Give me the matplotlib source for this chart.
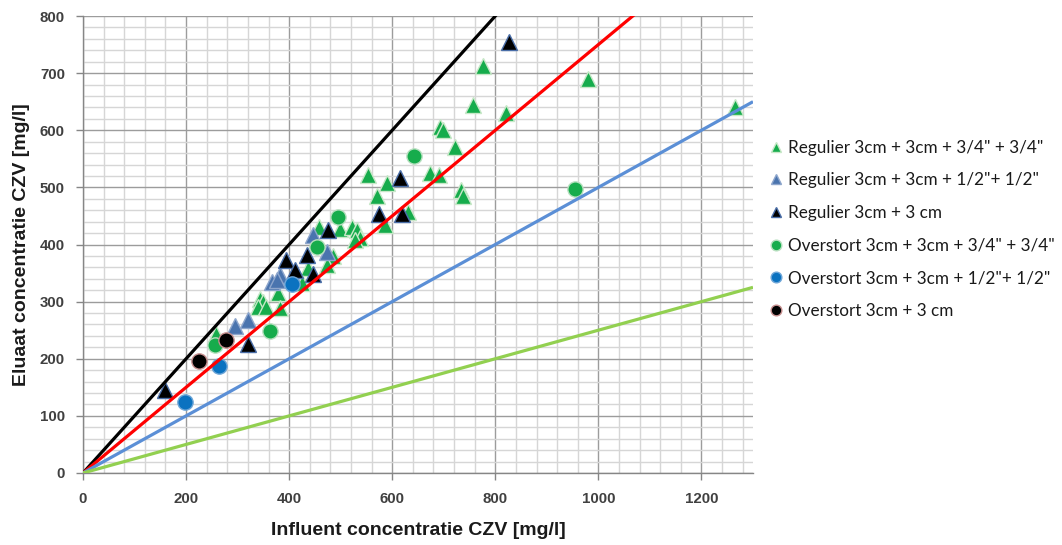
import matplotlib
matplotlib.use("Agg")
import matplotlib.pyplot as plt
from matplotlib.ticker import MultipleLocator

# --- measurements: influent vs eluate COD (CZV) in mg/l ---
reg_34_x = [1265, 980, 821, 777, 756, 693, 699, 722, 673, 690, 733, 738, 553, 590, 570,
            631, 586, 457, 499, 521, 531, 538, 528, 486, 473, 437, 424, 343, 350, 340,
            355, 379, 382, 259]
reg_34_y = [640, 690, 630, 712, 644, 606, 600, 570, 525, 522, 495, 485, 522, 508, 485,
            457, 434, 431, 428, 431, 425, 411, 408, 379, 364, 358, 333, 305, 300, 290,
            291, 315, 288, 243]

reg_12_x = [447, 473, 382, 366, 376, 321, 295]
reg_12_y = [416, 387, 347, 335, 338, 268, 258]

reg_3_x = [827, 615, 575, 618, 476, 434, 394, 411, 446, 321, 159]
reg_3_y = [755, 517, 454, 454, 425, 382, 373, 355, 349, 225, 145]

ov_34_x = [955, 643, 494, 454, 362, 256]
ov_34_y = [498, 555, 448, 396, 249, 224]

ov_12_x = [406, 263, 197]
ov_12_y = [331, 188, 125]

ov_3_x = [226, 278]
ov_3_y = [196, 233]

# reference lines eluate = ratio * influent
ref_x = [0, 1300]
ref_ratios = [1.0, 0.75, 0.5, 0.25]
ref_colors = ["#000000", "#FF0000", "#5B8FD6", "#92D050"]

labels = [
    'Regulier 3cm + 3cm + 3/4" + 3/4"',
    'Regulier 3cm + 3cm + 1/2"+ 1/2"',
    'Regulier 3cm + 3 cm',
    'Overstort 3cm + 3cm + 3/4" + 3/4"',
    'Overstort 3cm + 3cm + 1/2"+ 1/2"',
    'Overstort 3cm + 3 cm',
]

fig = plt.figure(figsize=(10.62, 5.45), dpi=100)
ax = fig.add_axes([83 / 1062, 1 - 473 / 545, 670 / 1062, 457 / 545])

ax.set_xlim(0, 1300)
ax.set_ylim(0, 800)
ax.xaxis.set_major_locator(MultipleLocator(200))
ax.xaxis.set_minor_locator(MultipleLocator(40))
ax.yaxis.set_major_locator(MultipleLocator(100))
ax.yaxis.set_minor_locator(MultipleLocator(20))
ax.grid(which="minor", color="#D6D6D6", lw=1.0, zorder=0)
ax.grid(which="major", color="#9C9C9C", lw=1.0, zorder=0)
ax.set_axisbelow(True)

for s in ["top", "right"]:
    ax.spines[s].set_visible(False)
for s in ["left", "bottom"]:
    ax.spines[s].set_color("#868686")
    ax.spines[s].set_linewidth(1.0)
ax.tick_params(which="major", length=5, color="#868686", width=1.0)
ax.tick_params(which="minor", length=0)

for lab in ax.get_xticklabels() + ax.get_yticklabels():
    lab.set_fontfamily("Liberation Sans")
    lab.set_fontweight("bold")
    lab.set_fontsize(10.8)
    lab.set_color("#404040")
ax.tick_params(axis="x", pad=9)
ax.tick_params(axis="y", pad=8)

ms = 11
series = [
    (reg_34_x, reg_34_y, "^", "#16AC4C", "#C8E8C8"),
    (reg_12_x, reg_12_y, "^", "#4A74AE", "#8EA6CC"),
    (reg_3_x, reg_3_y, "^", "#000000", "#4A6EA8"),
    (ov_34_x, ov_34_y, "o", "#16AC4C", "#B8E0C0"),
    (ov_12_x, ov_12_y, "o", "#0B72C0", "#6EA6D8"),
    (ov_3_x, ov_3_y, "o", "#000000", "#C89090"),
]
handles = []
for (x, y, m, fc, ec), lab in zip(series, labels):
    h, = ax.plot(x, y, linestyle="none", marker=m, markersize=ms,
                 markerfacecolor=fc, markeredgecolor=ec, markeredgewidth=1.0,
                 label=lab, zorder=3)
    handles.append(h)

for r, c in zip(ref_ratios, ref_colors):
    ax.plot(ref_x, [r * v for v in ref_x], color=c, lw=2.3, zorder=4,
            solid_capstyle="butt")

ax.set_xlabel("Influent concentratie CZV [mg/l]", fontfamily="Liberation Sans",
              fontweight="bold", fontsize=14, color="#1A1A1A", labelpad=11)
ax.set_ylabel("Eluaat concentratie CZV [mg/l]", fontfamily="Liberation Sans",
              fontweight="bold", fontsize=14, color="#1A1A1A", labelpad=7)

leg = fig.legend(handles=handles, labels=labels, loc="upper left",
                 bbox_to_anchor=(764 / 1062, 1 - 133 / 545), frameon=False,
                 prop={"family": "Lato", "size": 12.3}, markerscale=0.7,
                 handlelength=0.6, handletextpad=0.4, labelspacing=0.97,
                 borderaxespad=0)
for t in leg.get_texts():
    t.set_color("#1A1A1A")

fig.savefig("out.png", dpi=100)
